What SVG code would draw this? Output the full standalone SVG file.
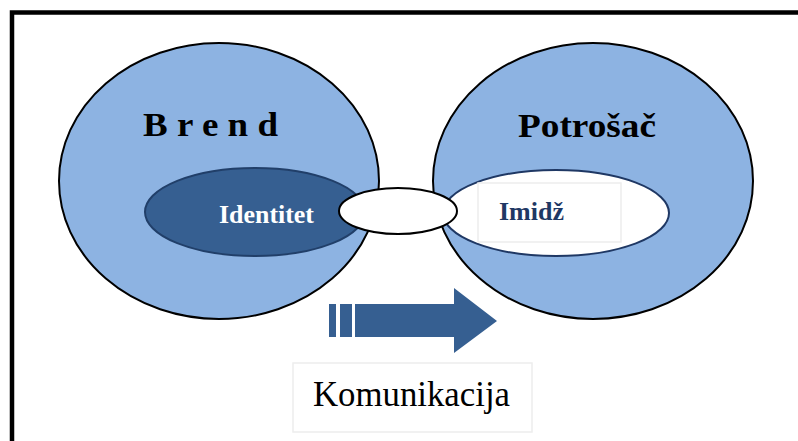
<svg xmlns="http://www.w3.org/2000/svg" width="798" height="441" viewBox="0 0 798 441">
<style>
.circ{fill:#8DB3E2;stroke:#000;stroke-width:2}
.bold{font-family:"Liberation Serif","Times New Roman",serif;font-weight:bold}
.reg{font-family:"Liberation Serif","Times New Roman",serif}
.box{fill:#fff;stroke:#EDEDED;stroke-width:1.5}
</style>
<rect width="798" height="441" fill="#fff"/>
<path d="M12,441 V12.5 H798" fill="none" stroke="#000" stroke-width="4.5"/>
<g id="brend">
<ellipse class="circ" cx="219" cy="181" rx="160" ry="138"/>
<text class="bold" x="143" y="136" font-size="34" textLength="135" lengthAdjust="spacingAndGlyphs" fill="#000">B r e n d</text>
</g>
<g id="potrosac">
<ellipse class="circ" cx="593" cy="181" rx="160" ry="138"/>
<text class="bold" x="518" y="137" font-size="34" textLength="138" lengthAdjust="spacingAndGlyphs" fill="#000">Potrošač</text>
</g>
<g id="identitet">
<ellipse cx="255" cy="212" rx="110" ry="44" fill="#365F91" stroke="#213F69" stroke-width="2"/>
<text class="bold" x="219" y="223" font-size="26" textLength="95" lengthAdjust="spacingAndGlyphs" fill="#fff">Identitet</text>
</g>
<g id="imidz">
<ellipse cx="556" cy="213" rx="113" ry="43" fill="#fff" stroke="#1F3864" stroke-width="2"/>
<rect class="box" x="478" y="183" width="143" height="59"/>
<text class="bold" x="499" y="220" font-size="26" textLength="65" lengthAdjust="spacingAndGlyphs" fill="#1F3864">Imidž</text>
</g>
<g id="link">
<ellipse cx="398" cy="211" rx="59" ry="23" fill="#fff" stroke="#000" stroke-width="2"/>
</g>
<g id="connectors">
<rect x="329" y="304" width="7" height="33" fill="#365F91"/>
<rect x="340" y="304" width="12" height="33" fill="#365F91"/>
<path d="M355,304 H454 V288 L497,321 L454,353 V337 H355 Z" fill="#365F91"/>
</g>
<g id="komunikacija">
<rect class="box" x="293" y="363" width="239" height="69"/>
<text class="reg" x="313" y="406" font-size="35" textLength="197" lengthAdjust="spacingAndGlyphs" fill="#000">Komunikacija</text>
</g>
</svg>
